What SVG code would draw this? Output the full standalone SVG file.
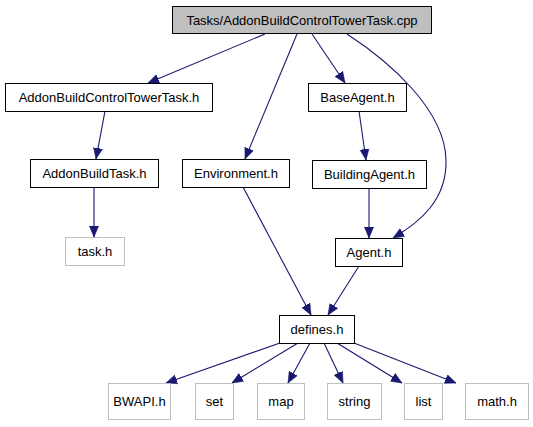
<svg xmlns="http://www.w3.org/2000/svg" width="533" height="427" viewBox="0 0 533 427">
<style>
.n rect{fill:#fff;stroke:#000;stroke-width:1}
.g rect{fill:#fff;stroke:#bfbfbf;stroke-width:1}
text{font-family:"Liberation Sans",Arial,sans-serif;font-size:13px;text-anchor:middle;fill:#000}
.e path{fill:none;stroke:#191970;stroke-width:1.1}
</style>
<defs>
<marker id="a" viewBox="0 0 10 10" refX="10" refY="5" markerWidth="11" markerHeight="11" markerUnits="userSpaceOnUse" orient="auto">
<path d="M0,0.8 L10,5 L0,9.2 Z" fill="#191970" stroke="#191970" stroke-width="0.5"/>
</marker>
</defs>
<rect width="533" height="427" fill="#fff"/>
<g class="e">
<path d="M265,34 L148,83" marker-end="url(#a)"/>
<path d="M297,34 L245,159" marker-end="url(#a)"/>
<path d="M312,34 L345,83" marker-end="url(#a)"/>
<path d="M347,34 C390,62 445,110 446,160 C447,200 420,222 393,238" marker-end="url(#a)"/>
<path d="M105,111 L96,159" marker-end="url(#a)"/>
<path d="M94,187 L94,237" marker-end="url(#a)"/>
<path d="M359,111 L366,160" marker-end="url(#a)"/>
<path d="M369,188 L369,238" marker-end="url(#a)"/>
<path d="M243,187 L311,315" marker-end="url(#a)"/>
<path d="M359,266 L328,315" marker-end="url(#a)"/>
<path d="M280,343 L166,383" marker-end="url(#a)"/>
<path d="M298,343 L232,383" marker-end="url(#a)"/>
<path d="M310,343 L288,383" marker-end="url(#a)"/>
<path d="M324,343 L343,383" marker-end="url(#a)"/>
<path d="M337,343 L402,383" marker-end="url(#a)"/>
<path d="M354,343 L456,383" marker-end="url(#a)"/>
</g>
<g id="root" class="n"><rect x="172.5" y="6.5" width="259" height="27" style="fill:#bfbfbf"/><text x="302" y="24.5">Tasks/AddonBuildControlTowerTask.cpp</text></g>
<g id="abctt" class="n"><rect x="5.5" y="83.5" width="207" height="28"/><text x="109" y="102">AddonBuildControlTowerTask.h</text></g>
<g id="abt" class="n"><rect x="30.5" y="159.5" width="128" height="28"/><text x="94.5" y="178">AddonBuildTask.h</text></g>
<g id="env" class="n"><rect x="182.5" y="159.5" width="107" height="28"/><text x="236" y="178">Environment.h</text></g>
<g id="base" class="n"><rect x="308.5" y="83.5" width="98" height="28"/><text x="357.5" y="102">BaseAgent.h</text></g>
<g id="build" class="n"><rect x="312.5" y="160.5" width="114" height="28"/><text x="369.5" y="179">BuildingAgent.h</text></g>
<g id="agent" class="n"><rect x="335.5" y="238.5" width="67" height="28"/><text x="369" y="257">Agent.h</text></g>
<g id="defines" class="n"><rect x="279.5" y="315.5" width="75" height="28"/><text x="317" y="334">defines.h</text></g>
<g id="task" class="g"><rect x="65.5" y="237.5" width="59" height="28"/><text x="95" y="256">task.h</text></g>
<g id="bwapi" class="g"><rect x="108.5" y="383.5" width="62" height="36"/><text x="139.5" y="406">BWAPI.h</text></g>
<g id="set" class="g"><rect x="195.5" y="383.5" width="38" height="36"/><text x="214.5" y="406">set</text></g>
<g id="map" class="g"><rect x="257.5" y="383.5" width="47" height="36"/><text x="281" y="406">map</text></g>
<g id="string" class="g"><rect x="327.5" y="383.5" width="54" height="36"/><text x="354.5" y="406">string</text></g>
<g id="list" class="g"><rect x="404.5" y="383.5" width="38" height="36"/><text x="423.5" y="406">list</text></g>
<g id="math" class="g"><rect x="465.5" y="383.5" width="63" height="36"/><text x="497" y="406">math.h</text></g>
</svg>
